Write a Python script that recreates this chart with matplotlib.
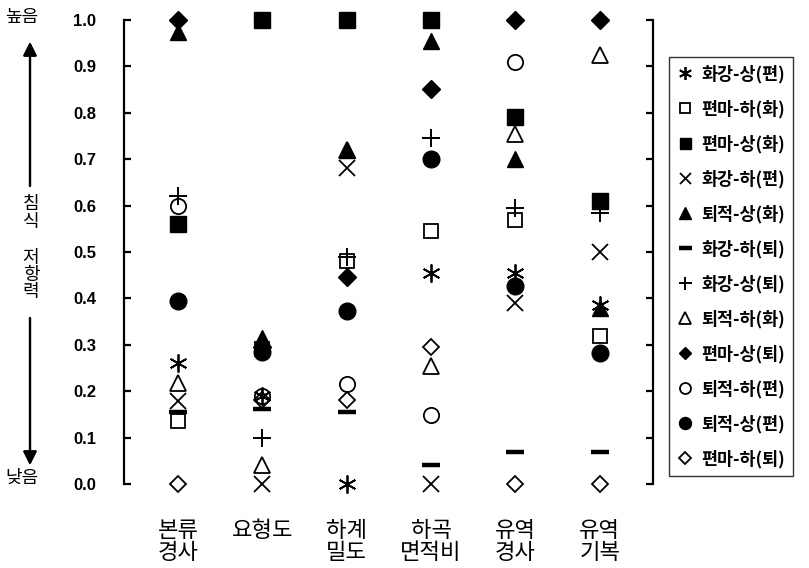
import matplotlib
matplotlib.use('Agg')
import matplotlib.pyplot as plt

plt.rcParams['font.family'] = ['Noto Sans CJK KR', 'DejaVu Sans']

#### Data ####
categories = ['본류\n경사', '요형도', '하계\n밀도', '하곡\n면적비', '유역\n경사', '유역\n기복']
series = ['화강-상(편)', '편마-하(화)', '편마-상(화)', '화강-하(편)', '퇴적-상(화)', '화강-하(퇴)',
          '화강-상(퇴)', '퇴적-하(화)', '편마-상(퇴)', '퇴적-하(편)', '퇴적-상(편)', '편마-하(퇴)']

granite_up_schist = [0.26, 0.19, 0.0, 0.455, 0.455, 0.385]
gneiss_low_granite = [0.135, 0.29, 0.48, 0.545, 0.57, 0.32]
gneiss_up_granite = [0.56, 1.0, 1.0, 1.0, 0.79, 0.61]
granite_low_schist = [0.178, 0.0, 0.68, 0.0, 0.39, 0.50]
sed_up_granite = [0.975, 0.315, 0.72, 0.955, 0.70, 0.38]
granite_low_sed = [0.155, 0.162, 0.155, 0.042, 0.07, 0.07]
granite_up_sed = [0.62, 0.10, 0.49, 0.745, 0.595, 0.585]
sed_low_granite = [0.218, 0.04, 0.72, 0.255, 0.755, 0.925]
gneiss_up_sed = [1.0, 0.295, 0.447, 0.852, 1.0, 1.0]
sed_low_schist = [0.60, 0.19, 0.215, 0.148, 0.91, 0.61]
sed_up_schist = [0.395, 0.285, 0.373, 0.70, 0.426, 0.282]
gneiss_low_sed = [0.0, 0.18, 0.18, 0.296, 0.0, 0.0]

values = [granite_up_schist, gneiss_low_granite, gneiss_up_granite, granite_low_schist,
          sed_up_granite, granite_low_sed, granite_up_sed, sed_low_granite,
          gneiss_up_sed, sed_low_schist, sed_up_schist, gneiss_low_sed]

# marker, filled, size, edge width
styles = [((6, 2, 0), True, 13, 1.3), ('s', False, 10, 1.3), ('s', True, 11, 1.0),
          ('x', True, 11, 1.3), ('^', True, 12, 1.0), ('_', True, 13, 3.2),
          ('+', True, 13, 1.4), ('^', False, 12, 1.3), ('D', True, 9, 1.0),
          ('o', False, 11, 1.3), ('o', True, 12, 1.0), ('D', False, 8, 1.3)]

ticks = [0.0, 0.1, 0.2, 0.3, 0.4, 0.5, 0.6, 0.7, 0.8, 0.9, 1.0]

#### Plot ####
W, H = 809, 568
fig = plt.figure(figsize=(W / 100, H / 100), dpi=100)
ax = fig.add_axes([124 / W, 84 / H, (653 - 124) / W, 464 / H])

xs = list(range(1, len(categories) + 1))
for lab, vals, (m, filled, ms, mew) in zip(series, values, styles):
    ax.plot(xs, vals, linestyle='none', marker=m, markersize=ms, markeredgewidth=mew,
            color='black', markerfacecolor='black' if filled else 'none',
            clip_on=False, label=lab)

ax.set_xlim(0.36, 6.63)
ax.set_ylim(0, 1)
ax.set_yticks(ticks)
ax.set_yticklabels([f'{t:.1f}' for t in ticks], family='Liberation Sans',
                   fontweight='bold', fontsize=12)
ax.set_xticks([])
for s in ['top', 'bottom']:
    ax.spines[s].set_visible(False)
for s in ['left', 'right']:
    ax.spines[s].set_linewidth(1.6)
ax.tick_params(axis='y', direction='in', length=5, width=1.6, pad=20,
               right=True, labelright=False)

# category labels under each column
for x, c in zip(xs, categories):
    ax.annotate(c, xy=(x, 0), xycoords=('data', 'axes fraction'),
                xytext=(0, -25), textcoords='offset points', ha='center', va='top',
                fontsize=16, linespacing=0.95)

# left-side annotations
def fy(py):
    return 1 - py / H

fig.text(22 / W, fy(17), '높음', ha='center', va='center', fontsize=13)
fig.text(22 / W, fy(478), '낮음', ha='center', va='center', fontsize=13)
fig.text(31 / W, fy(213), '침\n식', ha='center', va='center', fontsize=13, linespacing=0.95)
fig.text(31 / W, fy(275), '저\n항\n력', ha='center', va='center', fontsize=13, linespacing=0.95)
arrow = dict(arrowstyle='-|>', lw=1.6, color='black', mutation_scale=20, shrinkA=0, shrinkB=0)
fig.add_artist(plt.annotate('', xy=(30 / W, fy(42)), xytext=(30 / W, fy(186)),
                            xycoords='figure fraction', arrowprops=arrow))
fig.add_artist(plt.annotate('', xy=(30 / W, fy(465)), xytext=(30 / W, fy(318)),
                            xycoords='figure fraction', arrowprops=arrow))

leg = ax.legend(loc='upper left', bbox_to_anchor=(669 / W, fy(57)),
                bbox_transform=fig.transFigure, frameon=True, fancybox=False,
                edgecolor='black', borderpad=0.45, labelspacing=0.95, handlelength=0.9,
                handletextpad=0.5, markerscale=0.72, borderaxespad=0,
                prop={'weight': 'bold', 'size': 12.5})
leg.get_frame().set_linewidth(1.0)

fig.savefig('out.png', dpi=100)
